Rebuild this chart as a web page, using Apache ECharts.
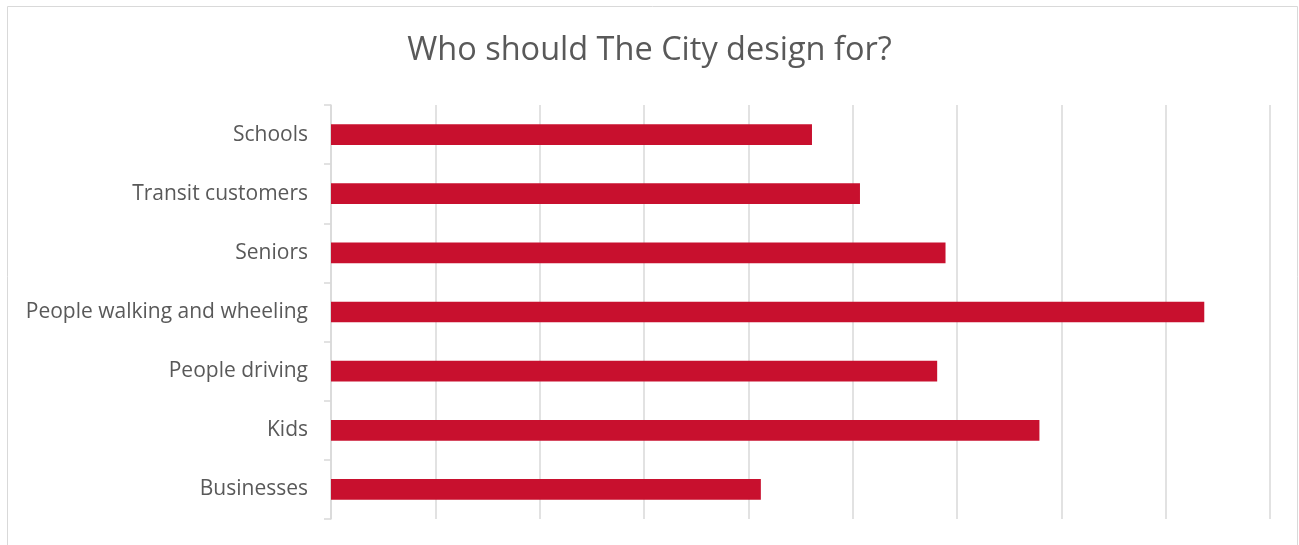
<!DOCTYPE html>
<html>
<head>
<meta charset="utf-8">
<script src="https://cdn.jsdelivr.net/npm/echarts@6/dist/echarts.min.js"></script>
<style>
  html, body { margin: 0; padding: 0; background: #fff; }
  #chart { width: 1299px; height: 545px; }
</style>
</head>
<body>
<div id="chart"></div>
<script>
// categories top to bottom (gridline = 100)
const categories = ['Schools', 'Transit customers', 'Seniors', 'People walking and wheeling', 'People driving', 'Kids', 'Businesses'];
const values = [461, 507, 589, 837, 581, 679, 412];

let chartDom = document.getElementById('chart');
let myChart = echarts.init(chartDom);
let option;

option = {
  animation: false,
  title: {
    text: 'Who should The City design for?',
    left: 'center',
    top: 29,
    textStyle: {
      fontFamily: 'Open Sans',
      fontSize: 32.5,
      fontWeight: 'normal',
      color: '#595959'
    }
  },
  graphic: [
    {
      type: 'rect',
      shape: { x: 7.5, y: 6.5, width: 1290, height: 560 },
      style: { fill: null, stroke: '#d9d9d9', lineWidth: 1 },
      silent: true
    }
  ],
  grid: {
    left: 331,
    right: 29,
    top: 105,
    bottom: 26
  },
  xAxis: {
    type: 'value',
    min: 0,
    max: 900,
    interval: 100,
    axisLabel: { show: false },
    axisLine: { show: false },
    axisTick: { show: false },
    splitLine: { lineStyle: { color: '#d9d9d9', width: 1.5 } }
  },
  yAxis: {
    type: 'category',
    data: categories,
    inverse: true,
    axisLine: { show: true, lineStyle: { color: '#d9d9d9', width: 1.5 } },
    axisTick: { show: true, length: 7, lineStyle: { color: '#d9d9d9', width: 1.5 } },
    axisLabel: {
      margin: 23,
      fontFamily: 'Open Sans',
      fontSize: 21,
      color: '#595959'
    }
  },
  series: [
    {
      type: 'bar',
      data: values,
      barWidth: '35%',
      itemStyle: { color: '#c8102e' }
    }
  ]
};

option && myChart.setOption(option);
</script>
</body>
</html>
